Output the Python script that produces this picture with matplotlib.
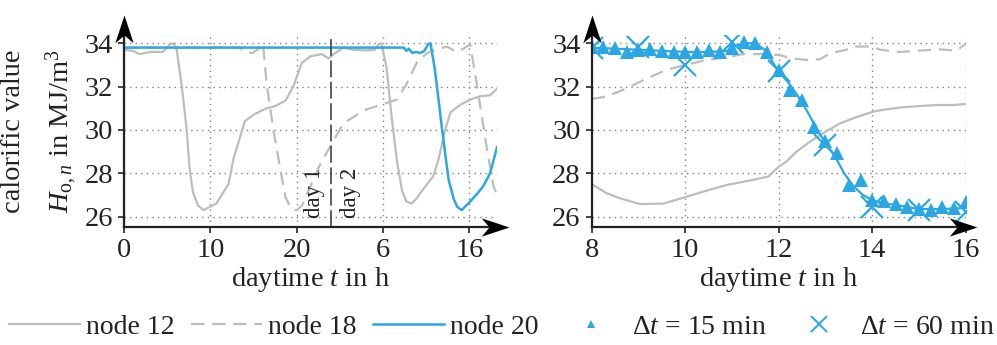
import matplotlib
matplotlib.use("Agg")
import matplotlib.pyplot as plt
from matplotlib.path import Path
from matplotlib.lines import Line2D

plt.rcParams["font.family"] = ["Liberation Serif", "DejaVu Serif"]
plt.rcParams["mathtext.fontset"] = "custom"
plt.rcParams["mathtext.rm"] = "Liberation Serif"
plt.rcParams["mathtext.it"] = "Liberation Serif:italic"
FS = 20.5

GRAY = "#bdbdbd"
BLUE = "#2ba7e6"
INK = "#222222"

# ---- left panel: two days, hours since start of day 1
t12 = [0, 1, 1.8, 3, 4.5, 5.3, 5.7, 6.1, 6.7, 7.26, 7.6, 8.0, 8.6, 9.2, 10.7, 12.1, 12.7, 14.0,
       15.0, 16.5, 17.5, 18.7, 19.6, 20.6, 21.6, 22.9, 23.7, 24.3, 25.4, 26.6, 28.1, 29.0,
       29.5, 29.8, 30.4, 31.0, 31.6, 32.2, 32.7, 33.3, 33.9, 34.9, 35.8, 36.4, 37.2, 37.8,
       38.9, 40.1, 41.2, 42.4, 43.2]
v12 = [33.7, 33.65, 33.5, 33.6, 33.6, 33.95, 34.0, 33.7, 32.0, 30.0, 28.2, 27.1, 26.5, 26.3,
       26.6, 27.5, 28.7, 30.4, 30.7, 31.0, 31.1, 31.35, 32.0, 33.1, 33.4, 33.5, 33.3, 33.5,
       33.8, 33.7, 33.67, 33.7, 33.95, 34.0, 32.9, 30.6, 28.6, 27.2, 26.7, 26.6, 26.85, 27.4,
       27.85, 28.6, 30.0, 30.8, 31.15, 31.4, 31.55, 31.6, 31.9]

t18 = [0, 13.4, 14.0, 14.9, 15.6, 16.1, 16.5, 17.3, 18.1, 18.7, 19.4, 20.0, 20.6, 21.7, 22.7,
       23.9, 25.4, 26.6, 27.7, 29.7, 31.6, 32.7, 33.9, 35.1, 36.2, 37.4, 38.5, 39.3, 40.1,
       40.9, 42.0, 42.8, 43.2]
v18 = [33.8, 33.8, 33.6, 33.55, 33.75, 34.0, 32.2, 30.0, 28.2, 26.9, 26.35, 26.3, 26.5, 27.5,
       28.4, 29.25, 30.3, 30.6, 30.9, 31.15, 31.4, 32.1, 33.1, 33.55, 33.7, 33.85, 33.6, 33.75,
       33.95, 32.0, 29.2, 27.4, 27.0]

t20 = [0, 32.4, 32.7, 33.0, 33.4, 33.8, 34.3, 34.8, 35.2, 35.5, 36.0, 36.4, 36.8, 37.2, 37.6,
       38.2, 38.6, 39.1, 40.1, 41.0, 41.6, 42.4, 42.8, 43.2]
v20 = [33.8, 33.8, 33.65, 33.75, 33.55, 33.6, 33.55, 33.65, 33.95, 34.0, 32.8, 31.5, 30.15,
       28.9, 27.7, 26.8, 26.45, 26.3, 26.7, 27.1, 27.4, 28.0, 28.6, 29.2]

left_ticks = [0, 10, 20, 30, 40]
left_ticklabels = ["0", "10", "20", "6", "16"]
day_split = 24

# ---- right panel: day 2, 8 h to 16 h
tr12 = [8, 8.32, 8.6, 9.03, 9.53, 10, 10.46, 10.89, 11.46, 11.78, 12, 12.17, 12.38, 12.67,
        12.95, 13.31, 13.67, 14.03, 14.3, 14.66, 15.0, 15.38, 15.74, 16]
vr12 = [27.5, 27.08, 26.85, 26.58, 26.6, 26.9, 27.2, 27.46, 27.7, 27.85, 28.3, 28.55, 29.0,
        29.46, 29.85, 30.3, 30.6, 30.85, 30.95, 31.05, 31.1, 31.15, 31.15, 31.2]

tr18 = [8, 8.32, 8.75, 9.18, 9.6, 10, 10.46, 10.89, 11.24, 11.6, 12, 12.3, 12.6, 12.88, 13.1,
        13.45, 13.6, 14, 14.17, 14.6, 15.0, 15.45, 15.8, 16]
vr18 = [31.43, 31.54, 31.92, 32.38, 32.77, 33.0, 33.23, 33.35, 33.5, 33.5, 33.46, 33.3, 33.23,
        33.26, 33.54, 33.7, 33.85, 33.85, 33.7, 33.6, 33.66, 33.72, 33.66, 33.97]

tr20 = [8, 8.5, 9, 9.5, 10, 10.5, 10.9, 11.1, 11.25, 11.5, 11.7, 11.85, 12.0, 12.2, 12.4, 12.6,
        12.8, 13.0, 13.2, 13.4, 13.6, 13.8, 14.0, 14.3, 14.6, 15.0, 15.5, 16]
vr20 = [33.8, 33.75, 33.7, 33.65, 33.6, 33.6, 33.65, 33.9, 34.0, 34.0, 33.7, 33.2, 32.7, 32.2,
        31.6, 30.9, 30.1, 29.4, 28.8, 28.0, 27.4, 27.0, 26.75, 26.6, 26.5, 26.35, 26.35, 26.4]

t15 = [8, 8.25, 8.5, 8.75, 9, 9.25, 9.5, 9.75, 10, 10.25, 10.5, 10.75, 11, 11.25, 11.5, 11.75,
       12, 12.25, 12.5, 12.75, 13, 13.25, 13.5, 13.75, 14, 14.25, 14.5, 14.75, 15, 15.25,
       15.5, 15.75, 16]
v15 = [33.85, 33.85, 33.8, 33.6, 33.7, 33.72, 33.66, 33.6, 33.6, 33.6, 33.7, 33.6, 33.77,
       34.08, 34.03, 33.6, 32.77, 31.85, 31.4, 30.15, 29.5, 28.92, 27.46, 27.7, 26.77, 26.7,
       26.6, 26.43, 26.33, 26.3, 26.46, 26.4, 26.69]

t60 = [8, 9, 10, 11, 12, 13, 14, 15, 16]
v60 = [33.77, 33.85, 33.0, 34.05, 32.7, 29.3, 26.45, 26.3, 26.2]

y_ticks = [26, 28, 30, 32, 34]
y_lim = (25.52, 34.4)

# stealth arrow head, tip at the origin, pointing right
arrow_path = Path([(0, 0), (-1, 0.33), (-0.72, 0), (-1, -0.33), (0, 0)],
                  [Path.MOVETO, Path.LINETO, Path.LINETO, Path.LINETO, Path.CLOSEPOLY])
arrow_up = arrow_path.transformed(matplotlib.transforms.Affine2D().rotate_deg(90))


def style_axes(ax, x_tip, y_tip):
    for s in ax.spines.values():
        s.set_visible(False)
    ax.grid(True, linestyle=(0, (1, 3)), color="#808080", linewidth=1.0)
    ax.tick_params(direction="out", length=4, width=1.2, color=INK, labelcolor=INK,
                   labelsize=FS, pad=4)
    ax.set_yticks(y_ticks)
    ax.set_ylim(*y_lim)
    tr = ax.transAxes
    ax.plot([0, x_tip - 0.02], [0, 0], color=INK, lw=1.6, transform=tr, clip_on=False)
    ax.plot([0, 0], [0, y_tip - 0.05], color=INK, lw=1.6, transform=tr, clip_on=False)
    ax.plot([x_tip], [0], marker=arrow_path, ms=40, color="black", transform=tr,
            clip_on=False, mew=0)
    ax.plot([0], [y_tip], marker=arrow_up, ms=40, color="black", transform=tr,
            clip_on=False, mew=0)


fig = plt.figure(figsize=(9.97, 3.45), dpi=100)
ax1 = fig.add_axes([124 / 997, 1 - 227 / 345, (497 - 124) / 997, (227 - 34.6) / 345])
ax2 = fig.add_axes([591.7 / 997, 1 - 227 / 345, (965.7 - 591.7) / 997, (227 - 34.6) / 345])

# left panel
ax1.plot(t12, v12, color=GRAY, lw=1.6)
ax1.plot(t18, v18, color=GRAY, lw=1.6, dashes=(6, 3.5))
ax1.plot(t20, v20, color=BLUE, lw=1.8)
ax1.axvline(day_split, color="#333333", lw=1.1, dashes=(11, 3))
ax1.text(day_split - 0.7, 25.95, "day 1", rotation=90, ha="right", va="bottom", color=INK,
         fontsize=16.5)
ax1.text(day_split + 1.0, 25.95, "day 2", rotation=90, ha="left", va="bottom", color=INK,
         fontsize=16.5)
ax1.set_xlim(0, 43.2)
ax1.set_xticks(left_ticks)
ax1.set_xticklabels(left_ticklabels)
style_axes(ax1, 1.032, 1.10)
ax1.set_xlabel("daytime $t$ in h", color=INK, fontsize=FS, labelpad=1)
ax1.set_ylabel("calorific value\n$H_{\\mathrm{o},n}$ in MJ/m$^3$", color=INK, fontsize=FS,
               linespacing=1.7)
ax1.yaxis.set_label_coords(-0.12, 0.5)

# right panel
ax2.plot(tr12, vr12, color=GRAY, lw=1.6)
ax2.plot(tr18, vr18, color=GRAY, lw=1.6, dashes=(6, 3.5))
ax2.plot(tr20, vr20, color=BLUE, lw=1.6)
ax2.plot(t15, v15, linestyle="none", marker="^", ms=10, color=BLUE, mew=0)
ax2.plot(t60, v60, linestyle="none", marker="x", ms=16, mew=1.6, color=BLUE)
ax2.set_xlim(8, 16)
ax2.set_xticks([8, 10, 12, 14, 16])
style_axes(ax2, 1.029, 1.10)
ax2.set_xlabel("daytime $t$ in h", color=INK, fontsize=FS, labelpad=1)

handles = [
    Line2D([], [], color=GRAY, lw=1.6),
    Line2D([], [], color=GRAY, lw=1.6, dashes=(6, 3.5)),
    Line2D([], [], color=BLUE, lw=1.8),
    Line2D([], [], linestyle="none", marker="^", ms=6, color=BLUE, mew=0),
    Line2D([], [], linestyle="none", marker="x", ms=11, mew=1.4, color=BLUE),
]
labels = ["node 12", "node 18", "node 20", "$\\Delta t$ = 15 min", "$\\Delta t$ = 60 min"]
leg = fig.legend(handles, labels, loc="center left", bbox_to_anchor=(9 / 997, 1 - 327 / 345),
                 ncol=5, frameon=False, fontsize=20, handlelength=2.55, handletextpad=0.22,
                 columnspacing=0.6, borderpad=0, borderaxespad=0)
for t in leg.get_texts():
    t.set_color(INK)

fig.savefig("out.png", dpi=100)
